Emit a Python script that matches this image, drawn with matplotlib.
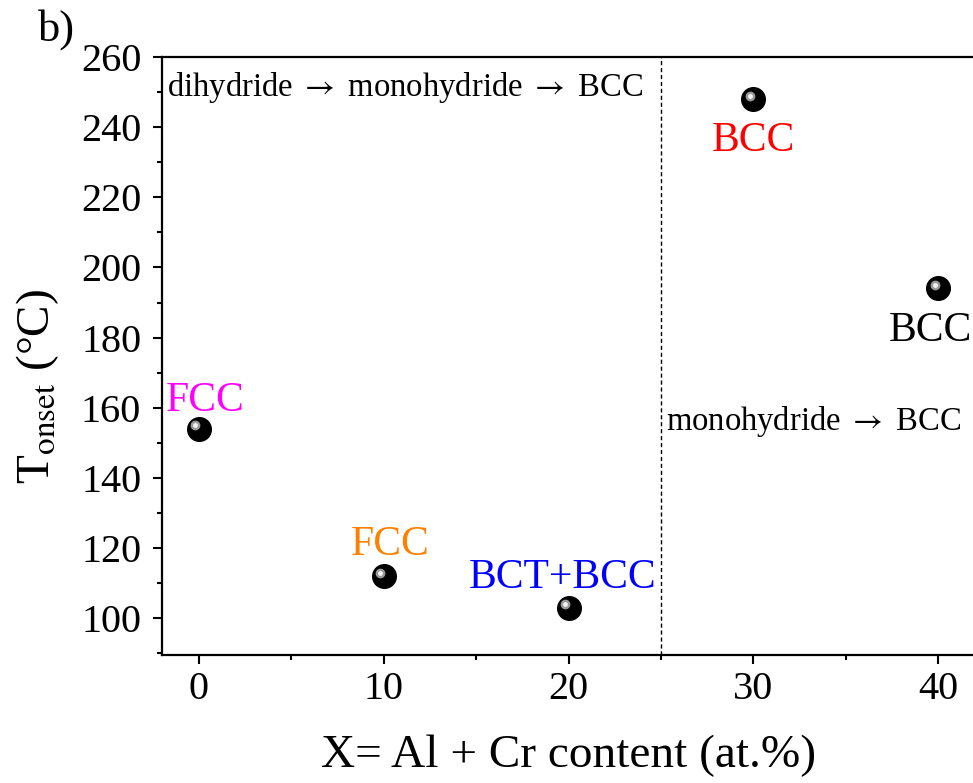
import matplotlib
matplotlib.use("Agg")
import matplotlib.pyplot as plt
from matplotlib.ticker import MultipleLocator
from matplotlib.transforms import offset_copy

plt.rcParams['font.family'] = ['Liberation Serif', 'DejaVu Serif']
plt.rcParams['mathtext.fontset'] = 'stix'

# Al + Cr content vs. onset temperature
content = [0, 10, 20, 30, 40]
t_onset = [154, 112, 103, 248, 194]
phases = ['FCC', 'FCC', 'BCT+BCC', 'BCC', 'BCC']
phase_colors = ['#FF00FF', '#FF8000', '#0000FF', '#FF0000', '#000000']
# label offsets in pixels (above for the first three, below for the rest)
label_dy = [28, 31, 30, -42, -42]
label_dx = [6, 6, -6, 0, -8]

fig = plt.figure(figsize=(9.73, 7.83), dpi=100)
W, H = 973, 783
ax = fig.add_axes([162 / W, (H - 655) / H, (975 - 162) / W, (655 - 57) / H])

ax.set_xlim(-2, 42)
ax.set_ylim(89.5, 260)

# dividing line between the two regimes
ax.axvline(25, color='black', lw=1.0, ls=(0, (3, 2)))

# sphere-like markers: black ball with a small highlight
ax.plot(content, t_onset, 'o', ms=17, color='black', zorder=3)
hl = offset_copy(ax.transData, fig=fig, x=-3.5, y=3.5, units='dots')
ax.plot(content, t_onset, 'o', ms=6, color='#9a9a9a', transform=hl, zorder=4)
ax.plot(content, t_onset, 'o', ms=2.5, color='#f2f2f2', transform=hl, zorder=5)

for x, y, txt, c, dx, dy in zip(content, t_onset, phases, phase_colors, label_dx, label_dy):
    ax.annotate(txt, (x, y), xytext=(dx, dy), textcoords='offset pixels',
                ha='center', va='center', color=c, fontsize=30,
                annotation_clip=False)

arrow = r' $\rightarrow$ '
ax.text(-1.75, 251.4, 'dihydride' + arrow + 'monohydride' + arrow + 'BCC',
        fontsize=23.5, va='center', ha='left')
ax.text(25.3, 156, 'monohydride' + arrow + 'BCC', fontsize=23.5,
        va='center', ha='left')

ax.xaxis.set_major_locator(MultipleLocator(10))
ax.xaxis.set_minor_locator(MultipleLocator(5))
ax.yaxis.set_major_locator(MultipleLocator(20))
ax.yaxis.set_minor_locator(MultipleLocator(10))
ax.tick_params(which='major', direction='out', length=6.5, width=1.5,
               labelsize=29, pad=5)
ax.tick_params(axis='y', which='major', pad=8.5)
ax.tick_params(which='minor', direction='out', length=3.5, width=1.5)
ax.tick_params(top=False, right=False, which='both')
for s in ax.spines.values():
    s.set_linewidth(1.6)

ax.set_xlabel('X= Al + Cr content (at.%)', fontsize=34, labelpad=19)
ax.set_ylabel(r'T$_{\mathrm{onset}}$ (°C)', fontsize=34, labelpad=14, y=0.45)

fig.text(38 / W, 1 - 30 / H, 'b)', fontsize=32, ha='left', va='center')

fig.savefig('out.png', dpi=100)
